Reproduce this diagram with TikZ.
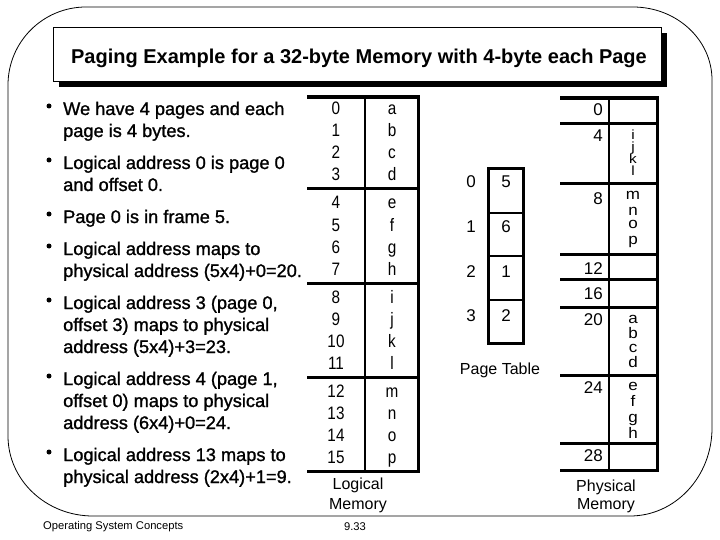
\documentclass[tikz,border=0pt]{standalone}
\usepackage{graphicx}
\usepackage{fontspec}
\setmainfont{Liberation Sans}
\newfontfamily\bulfont[FakeBold=1.2]{Liberation Sans}
\newcommand{\nar}[1]{\scalebox{0.85}[1]{#1}}
\newcommand{\squish}[1]{\scalebox{0.9}[0.78]{#1}}
\begin{document}
\begin{tikzpicture}[x=1pt,y=-1pt,
  bul/.style={anchor=base west,inner sep=0pt,font=\bulfont\fontsize{18.2}{22}\selectfont},
  dot/.style={circle,fill=black,inner sep=0pt,minimum size=5pt},
  ltx/.style={anchor=base,inner sep=0pt,font=\fontsize{18}{22}\selectfont},
  ptx/.style={anchor=base,inner sep=0pt,font=\fontsize{17}{20}\selectfont},
  pnum/.style={anchor=base east,inner sep=0pt,font=\fontsize{17}{20}\selectfont},
  lab/.style={anchor=base,inner sep=0pt,font=\fontsize{16}{20}\selectfont},
  tline/.style={line width=3pt},
  foot/.style={anchor=base,inner sep=0pt,font=\fontsize{11.2}{14}\selectfont}]
\useasboundingbox (0,0) rectangle (720,540);
% outer frame
\draw[line width=0.8pt] (8,85) arc[start angle=180,end angle=90,x radius=78pt,y radius=78pt]
  -- (633,7) arc[start angle=90,end angle=0,x radius=79pt,y radius=73pt]
  -- (712,428) arc[start angle=0,end angle=-90,x radius=82pt,y radius=88pt]
  -- (93,516) arc[start angle=270,end angle=180,x radius=85pt,y radius=80pt] -- cycle;
% title
\fill (59,33) rectangle (667,87);
\draw[fill=white,line width=0.8pt] (53,27) rectangle (661,81);
\node[anchor=base,inner sep=0pt,font=\fontsize{20}{24}\selectfont\bfseries] (title) at (359,64)
  {Paging Example for a 32-byte Memory with 4-byte each Page};
% bullets
\node[dot] (d1) at (49,106) {};
\node[bul] (b1a) at (63,115) {We have 4 pages and each};
\node[bul] (b1b) at (63,137) {page is 4 bytes.};
\node[dot] (d2) at (49,160) {};
\node[bul] (b2a) at (63,169) {Logical address 0 is page 0};
\node[bul] (b2b) at (63,191) {and offset 0.};
\node[dot] (d3) at (49,214) {};
\node[bul] (b3a) at (63,223) {Page 0 is in frame 5.};
\node[dot] (d4) at (49,246) {};
\node[bul] (b4a) at (63,255) {Logical address maps to};
\node[bul] (b4b) at (63,277) {physical address (5x4)+0=20.};
\node[dot] (d5) at (49,300) {};
\node[bul] (b5a) at (63,309) {Logical address 3 (page 0,};
\node[bul] (b5b) at (63,331) {offset 3) maps to physical};
\node[bul] (b5c) at (63,353) {address (5x4)+3=23.};
\node[dot] (d6) at (49,376) {};
\node[bul] (b6a) at (63,385) {Logical address 4 (page 1,};
\node[bul] (b6b) at (63,407) {offset 0) maps to physical};
\node[bul] (b6c) at (63,429) {address (6x4)+0=24.};
\node[dot] (d7) at (49,452) {};
\node[bul] (b7a) at (63,461) {Logical address 13 maps to};
\node[bul] (b7b) at (63,483) {physical address (2x4)+1=9.};
% logical memory table
\draw[line width=4pt] (307,97) -- (420,97);
\draw[tline] (307,189) -- (418,189);
\draw[tline] (307,283) -- (418,283);
\draw[tline] (307,377) -- (418,377);
\draw[tline] (307,471) -- (420,471);
\draw[line width=2.5pt] (365,97) -- (365,471);
\draw[tline] (418,97) -- (418,472);
\foreach \g/\a/\b/\c/\d [count=\gi from 0] in {0/a/b/c/d,4/e/f/g/h,8/i/j/k/l,12/m/n/o/p}{
  \foreach \r/\lt [count=\ri from 0] in {0/\a,1/\b,2/\c,3/\d}{
    \pgfmathtruncatemacro{\num}{\g+\r}
    \node[ltx] (ln\num) at (336,{115+94*\gi+22*\ri}) {\nar{\num}};
    \node[ltx] (lc\num) at (392,{115+94*\gi+22*\ri}) {\nar{\lt}};
  }
}
\node[lab] (lm1) at (358,489) {Logical};
\node[lab] (lm2) at (358,509) {Memory};
% page table
\draw[tline] (488,169) rectangle (523,343);
\draw[line width=2.5pt] (488,213) -- (523,213);
\draw[line width=2.5pt] (488,256) -- (523,256);
\draw[line width=2.5pt] (488,300) -- (523,300);
\foreach \i/\v/\yy in {0/5/188,1/6/233,2/1/277,3/2/321}{
  \node[ptx] (pi\i) at (471,\yy) {\i};
  \node[ptx] (pv\i) at (506,\yy) {\v};
}
\node[lab] (pt) at (500,374) {Page Table};
% physical memory
\draw[line width=4pt] (560,98) -- (659,98);
\foreach \yy in {124,184,254,279,307,375,443}{
  \draw[tline] (560,\yy) -- (657,\yy);
}
\draw[tline] (560,470) -- (659,470);
\draw[line width=2.5pt] (609,98) -- (609,470);
\draw[tline] (657,98) -- (657,471);
\foreach \n/\yy in {0/116,4/142,8/205,12/274,16/299,20/325,24/393,28/461}{
  \node[pnum] (pm\n) at (603,\yy) {\n};
}
\foreach \l/\yy in {i/139.5,j/151.5,k/163.5,l/175.5}{
  \node[ptx] (pl\l) at (633,\yy) {\squish{\l}};
}
\foreach \l/\yy in {m/200,n/215,o/229,p/244,a/323,b/338,c/352,d/367,e/390,f/406,g/422,h/438}{
  \node[ptx] (pl\l) at (633,\yy) {\scalebox{1}[0.9]{\l}};
}
\node[lab] (pm1) at (606,491) {Physical};
\node[lab] (pm2) at (606,509) {Memory};
% footer
\node[foot,anchor=base west] (osc) at (43,529) {Operating System Concepts};
\node[foot] (pg) at (355,530) {9.33};
\end{tikzpicture}
\end{document}
